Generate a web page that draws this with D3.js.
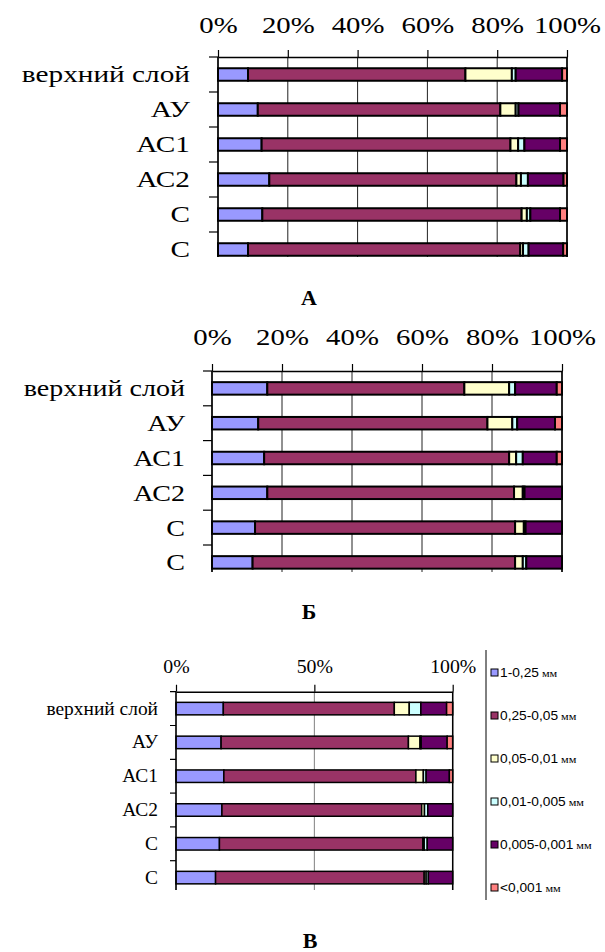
<!DOCTYPE html>
<html>
<head>
<meta charset="utf-8">
<script src="https://cdn.jsdelivr.net/npm/d3@7"></script>
<style>
  body { margin: 0; background: #fff; }
  svg { display: block; }
</style>
</head>
<body>
<svg id="chart" width="605" height="952"></svg>
<script>
var categories = ["верхний слой", "АУ", "АС1", "АС2", "С", "С"];
var fractions = ["1-0,25", "0,25-0,05", "0,05-0,01", "0,01-0,005", "0,005-0,001", "<0,001"];
var colors = ["#9999ff", "#993366", "#ffffcc", "#ccffff", "#660066", "#ff8080"];

// share of each fraction (%), one row per layer, columns follow `fractions`
var valuesA = [
  [8.6, 62.3, 13.3, 1.1, 13.3, 1.4],
  [11.4, 69.5, 4.4, 0.8, 11.9, 2.0],
  [12.5, 71.3, 2.2, 1.8, 10.2, 2.0],
  [14.7, 70.8, 1.3, 2.0, 10.2, 1.0],
  [12.7, 74.3, 1.5, 1.0, 8.5, 2.0],
  [8.6, 78.0, 0.8, 1.6, 9.9, 1.1]
];
var valuesB = [
  [15.8, 56.3, 12.8, 1.7, 11.9, 1.5],
  [13.2, 65.5, 7.1, 1.4, 10.8, 2.0],
  [14.9, 70.0, 2.0, 1.9, 9.7, 1.5],
  [15.8, 70.5, 2.5, 0.5, 10.7, 0],
  [12.3, 74.3, 2.5, 0.5, 10.4, 0],
  [11.6, 75.0, 2.2, 1.0, 10.2, 0]
];
var valuesV = [
  [17.1, 61.8, 5.4, 4.2, 9.3, 2.2],
  [16.3, 67.7, 4.2, 0.4, 9.4, 2.0],
  [17.3, 69.4, 2.7, 1.0, 8.4, 1.2],
  [16.6, 72.2, 1.0, 1.2, 9.0, 0],
  [15.7, 73.5, 0.5, 1.1, 9.2, 0],
  [14.3, 75.4, 0.7, 0.8, 8.8, 0]
];
var ticksAB = [0, 20, 40, 60, 80, 100];
var ticksV = [0, 50, 100];

var svg = d3.select("#chart");
var serif = "'Liberation Serif', 'Times New Roman', serif";

function drawPanel(id, values, ticks, cfg) {
  var x = d3.scaleLinear().domain([0, 100]).range([cfg.left, cfg.right]);
  var pad = 1 - cfg.barH / cfg.step;
  var y = d3.scaleBand()
    .domain(d3.range(categories.length))
    .range([cfg.top, cfg.top + cfg.step * categories.length])
    .paddingInner(pad)
    .paddingOuter(pad / 2);

  svg.append("clipPath").attr("id", "clip" + id)
    .append("rect")
    .attr("x", 0).attr("y", cfg.top - 70)
    .attr("width", 605).attr("height", cfg.bottom - cfg.top + 70);

  var g = svg.append("g").attr("clip-path", "url(#clip" + id + ")");

  // vertical grid
  g.append("g").selectAll("line")
    .data(ticks)
    .join("line")
    .attr("x1", d => x(d)).attr("x2", d => x(d))
    .attr("y1", cfg.top).attr("y2", cfg.bottom)
    .attr("stroke", cfg.gridColor)
    .attr("stroke-width", 1);

  // stacked bars
  var rows = values.map(function(r, i) {
    var o = { idx: i };
    fractions.forEach((f, j) => o[f] = r[j]);
    return o;
  });
  var series = d3.stack().keys(fractions)(rows);

  g.append("g").selectAll("g")
    .data(series)
    .join("g")
    .attr("fill", (s, i) => colors[i])
    .selectAll("rect")
    .data(s => s)
    .join("rect")
    .attr("x", d => x(d[0]))
    .attr("width", d => x(d[1]) - x(d[0]))
    .attr("y", d => y(d.data.idx))
    .attr("height", y.bandwidth())
    .attr("stroke", "#000")
    .attr("stroke-width", cfg.barStroke);

  // left axis with ticks between categories
  g.append("line")
    .attr("x1", cfg.left).attr("x2", cfg.left)
    .attr("y1", cfg.top).attr("y2", cfg.bottom)
    .attr("stroke", "#000").attr("stroke-width", 1.5);
  g.append("g").selectAll("line")
    .data(d3.range(categories.length + 1))
    .join("line")
    .attr("x1", cfg.left - cfg.leftTick).attr("x2", cfg.left)
    .attr("y1", i => cfg.top + y.step() * i)
    .attr("y2", i => cfg.top + y.step() * i)
    .attr("stroke", "#000").attr("stroke-width", 1.2);

  // right border
  g.append("line")
    .attr("x1", cfg.right).attr("x2", cfg.right)
    .attr("y1", cfg.top).attr("y2", cfg.bottom)
    .attr("stroke", "#000").attr("stroke-width", 1.5);

  // top axis
  var ax = g.append("g")
    .attr("transform", "translate(0," + cfg.top + ")")
    .call(d3.axisTop(x).tickValues(ticks).tickFormat(d => d + "%").tickSizeInner(7).tickSizeOuter(0));
  ax.attr("font-family", serif).attr("font-size", cfg.tickFont).attr("color", "#000");
  ax.select(".domain").attr("stroke-width", 1.5);
  ax.selectAll(".tick line").attr("stroke-width", 1.2);
  ax.selectAll(".tick text")
    .attr("y", cfg.tickBase - cfg.top)
    .attr("dy", null)
    .attr("transform", "scale(" + cfg.tickSx + ",1)");

  // category labels
  g.append("g").selectAll("text")
    .data(categories)
    .join("text")
    .attr("transform", (c, i) => "translate(" + cfg.labelRight + "," + (y(i) + y.bandwidth() / 2) + ") scale(" + cfg.labelSx + ",1)")
    .attr("text-anchor", "end")
    .attr("dy", "0.33em")
    .attr("font-family", serif)
    .attr("font-size", cfg.labelFont)
    .text(c => c);

  // panel letter
  svg.append("text")
    .attr("x", cfg.letterX).attr("y", cfg.letterY)
    .attr("text-anchor", "middle")
    .attr("font-family", serif)
    .attr("font-weight", "bold")
    .attr("font-size", 22)
    .text(id);
}

drawPanel("А", valuesA, ticksAB, {
  left: 218, right: 567, top: 57, step: 35, barH: 12.5, bottom: 257,
  gridColor: "#222", barStroke: 2, leftTick: 9,
  tickFont: 24, tickSx: 1.2, tickBase: 33,
  labelFont: 24, labelSx: 1.22, labelRight: 190,
  letterX: 309, letterY: 305
});

drawPanel("Б", valuesB, ticksAB, {
  left: 212, right: 562, top: 371, step: 34.8, barH: 12.5, bottom: 572,
  gridColor: "#222", barStroke: 2, leftTick: 9,
  tickFont: 24, tickSx: 1.2, tickBase: 345,
  labelFont: 24, labelSx: 1.17, labelRight: 185,
  letterX: 309, letterY: 619
});

drawPanel("В", valuesV, ticksV, {
  left: 176, right: 452.7, top: 691.7, step: 33.8, barH: 12.5, bottom: 890,
  gridColor: "#808080", barStroke: 1.5, leftTick: 6,
  tickFont: 18, tickSx: 1.1, tickBase: 673,
  labelFont: 18, labelSx: 1.08, labelRight: 158,
  letterX: 310, letterY: 948
});

// legend for panel В
svg.append("line")
  .attr("x1", 486).attr("x2", 486)
  .attr("y1", 650).attr("y2", 900)
  .attr("stroke", "#000").attr("stroke-width", 1);

var ly = d3.scalePoint().domain(fractions).range([673, 888]);
var leg = svg.append("g").selectAll("g")
  .data(fractions)
  .join("g")
  .attr("transform", f => "translate(491," + ly(f) + ")");
leg.append("rect")
  .attr("x", 0).attr("y", -4)
  .attr("width", 7).attr("height", 7)
  .attr("fill", (f, i) => colors[i])
  .attr("stroke", "#000").attr("stroke-width", 1);
var lt = leg.append("text")
  .attr("x", 0).attr("y", 0)
  .attr("transform", "translate(9,0) scale(1.1,1)")
  .attr("dy", "0.35em")
  .attr("font-size", 12.5);
lt.append("tspan").attr("font-family", "'Liberation Sans', Arial, sans-serif").text(f => f);
lt.append("tspan").attr("font-family", serif).attr("font-size", 11).text(" мм");
</script>
</body>
</html>
